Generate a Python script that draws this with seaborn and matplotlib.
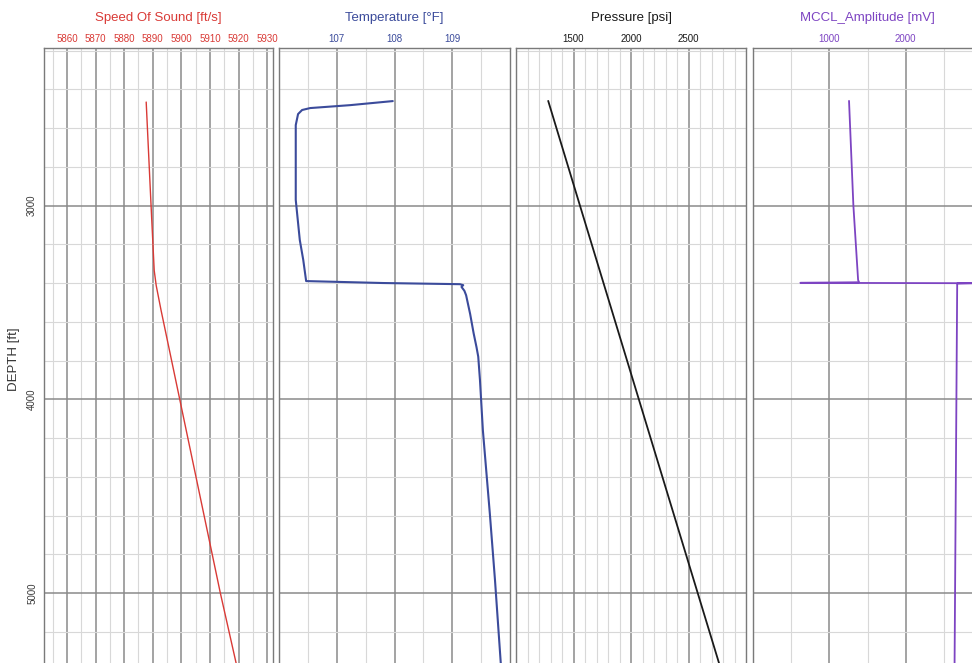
import matplotlib
matplotlib.use("Agg")
import matplotlib.pyplot as plt
import seaborn as sns
import pandas as pd
import numpy as np

# --- data ---
depth_sos = [2466, 3000, 3335, 3413, 3541, 5000, 5400]
speed_of_sound = [5887.7, 5889.4, 5890.5, 5891.2, 5892.9, 5913.6, 5919.7]

depth_temp = [2461, 2482, 2497, 2507, 2528, 2585, 2971, 3178, 3281, 3390,
              3400, 3406, 3411, 3420, 3440, 3463, 3560, 3659, 3731, 3780,
              3901, 4159, 4587, 4933, 5361, 5400]
temperature = [107.97, 107.23, 106.54, 106.40, 106.33, 106.29, 106.29, 106.36, 106.42, 106.47,
               107.80, 109.13, 109.19, 109.16, 109.21, 109.24, 109.31, 109.37, 109.42, 109.45,
               109.48, 109.53, 109.65, 109.74, 109.84, 109.85]

depth_pres = [2460, 3000, 4000, 5000, 5400]
pressure = [1280, 1556, 2068, 2580, 2785]

depth_mccl = [2460, 3000, 3385, 3396, 3399, 3401, 3403, 3410, 5400]
mccl_amp = [1258, 1315, 1377, 1390, 620, 2870, 2675, 2675, 2640]

tracks = [
    ("Speed Of Sound [ft/s]", depth_sos, speed_of_sound, "#d93a36", 1.0,
     (5852, 5932), np.arange(5860, 5931, 10), np.arange(5855, 5932, 5)),
    ("Temperature [°F]", depth_temp, temperature, "#3b4b9b", 1.5,
     (106, 110), [107, 108, 109], np.arange(106, 110.01, 0.5)),
    ("Pressure [psi]", depth_pres, pressure, "#1a1a1a", 1.3,
     (1000, 3000), [1500, 2000, 2500], np.arange(1000, 3001, 100)),
    ("MCCL_Amplitude [mV]", depth_mccl, mccl_amp, "#7d44c2", 1.3,
     (0, 3000), [1000, 2000], np.arange(0, 3001, 500)),
]

sns.set_style("white")
plt.rcParams['font.family'] = ['Liberation Sans', 'DejaVu Sans']

W, H = 972, 663
fig = plt.figure(figsize=(W / 100, H / 100), dpi=100)

y_top, y_bot = 2187, 5400
px_per_ft = 0.19375
ax_h = (y_bot - y_top) * px_per_ft
lefts = [44, 279, 516, 753]
widths = [229, 231, 230, 229]

axes = []
for (title, d, v, color, lw, xlim, majors, minors), left, width in zip(tracks, lefts, widths):
    ax = fig.add_axes([left / W, 1 - (48 + ax_h) / H, width / W, ax_h / H])
    df = pd.DataFrame({"depth": d, "value": v})
    sns.lineplot(data=df, x="value", y="depth", sort=False, estimator=None,
                 color=color, lw=lw, ax=ax)
    ax.set_xlim(*xlim)
    ax.set_ylim(y_bot, y_top)
    ax.set_xticks(majors)
    ax.set_xticks(minors, minor=True)
    ax.set_yticks([3000, 4000, 5000])
    ax.set_yticks(np.arange(2200, 5401, 200), minor=True)
    ax.grid(which="major", color="#8a8a8a", lw=1.1)
    ax.grid(which="minor", color="#d8d8d8", lw=0.8)
    ax.set_axisbelow(True)
    ax.xaxis.set_ticks_position("top")
    ax.tick_params(axis="x", which="both", length=0, pad=3, labelsize=7,
                   labelcolor=color, top=True, bottom=False,
                   labeltop=True, labelbottom=False)
    ax.tick_params(axis="y", which="both", length=0)
    ax.set_xlabel("")
    ax.set_ylabel("")
    for s in ax.spines.values():
        s.set_color("#7a7a7a")
        s.set_linewidth(1.0)
    ax.text(0.5, 1 + 30 / ax_h, title, transform=ax.transAxes, ha="center",
            va="center", fontsize=9.5, color=color)
    axes.append(ax)

axes[0].tick_params(axis="y", labelsize=7, labelcolor="#3a3a3a", pad=5)
for lab in axes[0].get_yticklabels():
    lab.set_rotation(90)
    lab.set_va("center")
axes[0].set_ylabel("DEPTH [ft]", fontsize=9.5, color="#333333", labelpad=5)
for ax in axes[1:]:
    ax.tick_params(axis="y", labelleft=False)

fig.savefig("out.png", dpi=100)
